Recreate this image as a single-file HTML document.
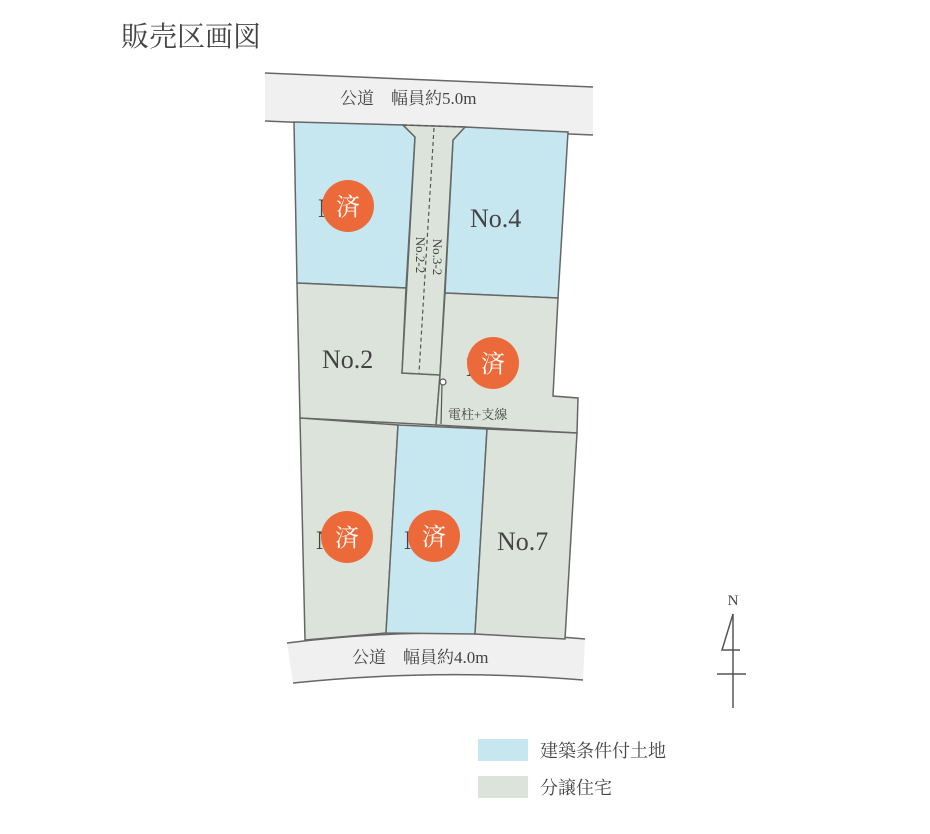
<!DOCTYPE html>
<html><head><meta charset="utf-8"><style>
body{margin:0;background:#fff;width:930px;height:829px;overflow:hidden}
svg text{font-family:"Liberation Serif","Noto Serif CJK SC",serif;fill:#444}
</style></head><body>
<svg width="930" height="829" viewBox="0 0 930 829" xmlns="http://www.w3.org/2000/svg">
<text x="121" y="46" font-size="28" fill="#555">販売区画図</text>
<polygon points="265,73 593,87 593,135 265,121" fill="#f0f0f0"/>
<path d="M287,643 Q430,625 585,639 L583,680 Q440,668 293,683 Z" fill="#f0f0f0"/>
<g stroke="#666" stroke-width="1.5" fill="none">
<line x1="265" y1="73" x2="593" y2="87"/>
<line x1="265" y1="121" x2="593" y2="135"/>
<path d="M287,643 Q430,625 585,639"/>
<path d="M293,683 Q440,668 583,680"/>
</g>
<g stroke="#666" stroke-width="1.5">
<polygon points="294,122 403,125 415,137 406,288 297,283" fill="#c6e6f0"/>
<polygon points="465,127 568,132 558,298 445,293 453,140" fill="#c6e6f0"/>
<polygon points="297,283 406,288 402,373 440,375 436,425 300,418" fill="#dce3da"/>
<polygon points="403,125 465,127 453,140 440,375 402,373 415,137" fill="#dce3da"/>
<polygon points="445,293 558,298 553,396 578,398 577,433 436,425 440,375" fill="#dce3da"/>
<polygon points="300,418 398,425 386,633 305,640" fill="#dce3da"/>
<polygon points="398,425 487,429 475,634 386,633" fill="#c6e6f0"/>
<polygon points="487,429 577,433 565,639 475,634" fill="#dce3da"/>
</g>
<line x1="403" y1="125" x2="465" y2="127" stroke="#555" stroke-width="1.2" stroke-dasharray="4,3"/>
<line x1="434" y1="128" x2="419" y2="373" stroke="#555" stroke-width="1.2" stroke-dasharray="4,3"/>
<text x="340" y="104" font-size="17">公道　幅員約5.0m</text>
<text x="352" y="663" font-size="17">公道　幅員約4.0m</text>
<text x="470" y="227" font-size="26">No.4</text>
<text x="322" y="368" font-size="26">No.2</text>
<text x="497" y="550" font-size="26">No.7</text>
<text x="318" y="217" font-size="26">No.1</text>
<text x="466" y="376" font-size="26">No.3</text>
<text x="316" y="549" font-size="26">No.5</text>
<text x="404" y="549" font-size="26">No.6</text>
<text transform="translate(416,255) rotate(90)" font-size="13" text-anchor="middle">No.2-2</text>
<text transform="translate(433,257) rotate(90)" font-size="13" text-anchor="middle">No.3-2</text>
<circle cx="443" cy="382" r="3" fill="#fff" stroke="#555" stroke-width="1.2"/>
<line x1="442" y1="385" x2="441" y2="424" stroke="#555" stroke-width="1.2"/>
<text x="448" y="419" font-size="13">電柱+支線</text>
<g fill="#ec6a3a">
<circle cx="348" cy="206" r="26"/><circle cx="493" cy="363" r="26"/>
<circle cx="347" cy="537" r="26"/><circle cx="434" cy="536" r="26"/>
</g>
<g font-size="24" text-anchor="middle">
<text x="348" y="215" style="fill:#fff">済</text><text x="493" y="372" style="fill:#fff">済</text>
<text x="347" y="546" style="fill:#fff">済</text><text x="434" y="545" style="fill:#fff">済</text>
</g>
<text x="733" y="605" font-size="15" text-anchor="middle">N</text>
<g stroke="#555" stroke-width="1.5" fill="none">
<line x1="733" y1="614" x2="733" y2="708"/>
<polyline points="733,614 722,650 740,650"/>
<line x1="717" y1="674" x2="746" y2="674"/>
</g>
<rect x="478" y="739" width="50" height="22" fill="#c6e6f0"/>
<rect x="478" y="776" width="50" height="22" fill="#dce3da"/>
<text x="540" y="757" font-size="18" fill="#555">建築条件付土地</text>
<text x="540" y="794" font-size="18" fill="#555">分譲住宅</text>
</svg>
</body></html>
